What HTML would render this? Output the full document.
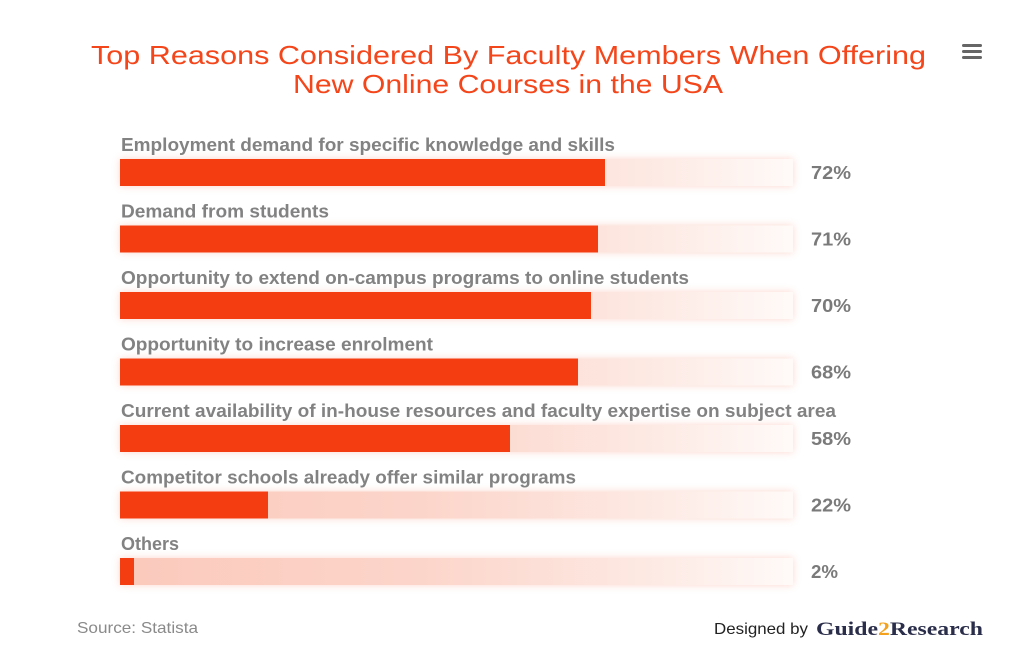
<!DOCTYPE html>
<html><head><meta charset="utf-8"><style>
html,body{margin:0;padding:0;background:#fff;}
svg{display:block;}
</style></head><body>
<svg width="1024" height="661" viewBox="0 0 1024 661" xmlns="http://www.w3.org/2000/svg">
<defs>
<linearGradient id="tg" x1="0" y1="0" x2="1" y2="0">
<stop offset="0" stop-color="#fbc9bc"/>
<stop offset="0.45" stop-color="#fcd5ca"/>
<stop offset="0.8" stop-color="#fdeae4"/>
<stop offset="1" stop-color="#fffaf8"/>
</linearGradient>
<filter id="glow" x="-10%" y="-60%" width="120%" height="220%">
<feGaussianBlur stdDeviation="4"/>
</filter>
</defs>
<rect width="1024" height="661" fill="#fff"/>
<g font-family="'Liberation Sans', sans-serif" fill="#f4461b" font-size="26">
<text x="91" y="64" textLength="835" lengthAdjust="spacingAndGlyphs">Top Reasons Considered By Faculty Members When Offering</text>
<text x="293" y="93" textLength="430" lengthAdjust="spacingAndGlyphs">New Online Courses in the USA</text>
</g>
<g fill="#666">
<rect x="962" y="44" width="20" height="3" rx="1.5"/>
<rect x="962" y="50" width="20" height="3" rx="1.5"/>
<rect x="962" y="56" width="20" height="3" rx="1.5"/>
</g>
<g font-family="'Liberation Sans', sans-serif" font-weight="bold" font-size="18" fill="#828282">
<!-- bar 1 -->
<rect x="120" y="159" width="673" height="27" fill="#f8a58f" opacity="0.45" filter="url(#glow)"/>
<rect x="120" y="159" width="673" height="27" fill="url(#tg)"/>
<rect x="120" y="159" width="485" height="27" fill="#f43e12"/>
<text x="121" y="151" textLength="494" lengthAdjust="spacingAndGlyphs">Employment demand for specific knowledge and skills</text>
<text x="811" y="179" textLength="40" lengthAdjust="spacingAndGlyphs" fill="#7a7a7a">72%</text>
<!-- bar 2 -->
<rect x="120" y="225.5" width="673" height="27" fill="#f8a58f" opacity="0.45" filter="url(#glow)"/>
<rect x="120" y="225.5" width="673" height="27" fill="url(#tg)"/>
<rect x="120" y="225.5" width="478" height="27" fill="#f43e12"/>
<text x="121" y="217.5" textLength="208" lengthAdjust="spacingAndGlyphs">Demand from students</text>
<text x="811" y="245.5" textLength="40" lengthAdjust="spacingAndGlyphs" fill="#7a7a7a">71%</text>
<!-- bar 3 -->
<rect x="120" y="292" width="673" height="27" fill="#f8a58f" opacity="0.45" filter="url(#glow)"/>
<rect x="120" y="292" width="673" height="27" fill="url(#tg)"/>
<rect x="120" y="292" width="471" height="27" fill="#f43e12"/>
<text x="121" y="284" textLength="568" lengthAdjust="spacingAndGlyphs">Opportunity to extend on-campus programs to online students</text>
<text x="811" y="312" textLength="40" lengthAdjust="spacingAndGlyphs" fill="#7a7a7a">70%</text>
<!-- bar 4 -->
<rect x="120" y="358.5" width="673" height="27" fill="#f8a58f" opacity="0.45" filter="url(#glow)"/>
<rect x="120" y="358.5" width="673" height="27" fill="url(#tg)"/>
<rect x="120" y="358.5" width="458" height="27" fill="#f43e12"/>
<text x="121" y="350.5" textLength="312" lengthAdjust="spacingAndGlyphs">Opportunity to increase enrolment</text>
<text x="811" y="378.5" textLength="40" lengthAdjust="spacingAndGlyphs" fill="#7a7a7a">68%</text>
<!-- bar 5 -->
<rect x="120" y="425" width="673" height="27" fill="#f8a58f" opacity="0.45" filter="url(#glow)"/>
<rect x="120" y="425" width="673" height="27" fill="url(#tg)"/>
<rect x="120" y="425" width="390" height="27" fill="#f43e12"/>
<text x="121" y="417" textLength="715" lengthAdjust="spacingAndGlyphs">Current availability of in-house resources and faculty expertise on subject area</text>
<text x="811" y="445" textLength="40" lengthAdjust="spacingAndGlyphs" fill="#7a7a7a">58%</text>
<!-- bar 6 -->
<rect x="120" y="491.5" width="673" height="27" fill="#f8a58f" opacity="0.45" filter="url(#glow)"/>
<rect x="120" y="491.5" width="673" height="27" fill="url(#tg)"/>
<rect x="120" y="491.5" width="148" height="27" fill="#f43e12"/>
<text x="121" y="483.5" textLength="455" lengthAdjust="spacingAndGlyphs">Competitor schools already offer similar programs</text>
<text x="811" y="511.5" textLength="40" lengthAdjust="spacingAndGlyphs" fill="#7a7a7a">22%</text>
<!-- bar 7 -->
<rect x="120" y="558" width="673" height="27" fill="#f8a58f" opacity="0.45" filter="url(#glow)"/>
<rect x="120" y="558" width="673" height="27" fill="url(#tg)"/>
<rect x="120" y="558" width="14" height="27" fill="#f43e12"/>
<text x="121" y="550" textLength="58" lengthAdjust="spacingAndGlyphs">Others</text>
<text x="811" y="578" textLength="27" lengthAdjust="spacingAndGlyphs" fill="#7a7a7a">2%</text>
</g>
<text x="77" y="633" font-family="'Liberation Sans', sans-serif" font-size="16" fill="#8a8a8a" textLength="121" lengthAdjust="spacingAndGlyphs">Source: Statista</text>
<text x="714" y="634" font-family="'Liberation Sans', sans-serif" font-size="16" fill="#222" textLength="94" lengthAdjust="spacingAndGlyphs">Designed by</text>
<g font-family="'Liberation Serif', serif" font-weight="bold" font-size="19">
<text x="816" y="635" fill="#2b2e4a" textLength="167" lengthAdjust="spacingAndGlyphs">Guide<tspan fill="#f4a21e">2</tspan>Research</text>
</g>
</svg>
</body></html>
